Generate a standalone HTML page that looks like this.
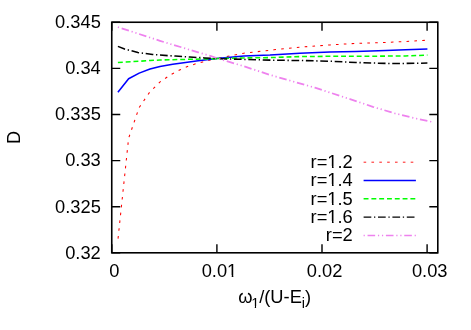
<!DOCTYPE html>
<html><head><meta charset="utf-8"><title>plot</title>
<style>
html,body{margin:0;padding:0;background:#fff;}
svg{display:block;will-change:transform;}
text{font-family:"Liberation Sans",sans-serif;font-size:18.3px;fill:#000;}
</style></head><body>
<svg width="471" height="330" viewBox="0 0 471 330">
<rect x="0" y="0" width="471" height="330" fill="#fff"/>
<path d="M118.0,239.0 L128.6,138.3 L139.1,107.6 L149.6,92.3 L160.1,81.9 L170.6,74.7 L180.1,69.8 L187.4,66.6 L195.0,64.0 L202.7,61.9 L210.3,59.9 L216.5,58.5" fill="none" stroke="#ff0000" stroke-width="1.05" stroke-dasharray="2.6 5.25" stroke-dashoffset="-0.4" stroke-linejoin="round"/>
<path d="M216.5,58.5 L243.9,53.2 L273.9,49.8 L299.9,47.2 L329.9,44.9 L355.9,43.4 L385.9,42.4 L405.5,41.5 L427.4,40.2" fill="none" stroke="#ff0000" stroke-width="1.05" stroke-dasharray="2.6 5.25" stroke-dashoffset="5.20" stroke-linejoin="round"/>
<path d="M117.9,92.2 L128.6,78.7 L139.2,73.1 L150.0,69.0 L160.0,66.5 L172.7,64.3 L185.5,62.5 L198.2,60.8 L211.0,59.3 L216.5,58.6 L243.9,56.1 L270.0,55.1 L299.9,53.2 L329.9,51.9 L355.9,51.5 L385.9,50.5 L405.5,49.8 L427.4,48.9" fill="none" stroke="#0000ff" stroke-width="1.55" stroke-linejoin="round"/>
<path d="M117.9,62.5 L140.0,61.2 L150.0,60.5 L160.0,60.0 L189.9,59.3 L211.0,58.9 L216.5,58.6" fill="none" stroke="#00ff00" stroke-width="1.55" stroke-dasharray="4.9 2.9" stroke-dashoffset="0" stroke-linejoin="round"/>
<path d="M216.5,58.6 L243.9,57.9 L270.0,57.6 L299.9,56.6 L329.9,56.3 L355.9,56.3 L385.9,56.1 L405.5,55.9 L427.4,55.1" fill="none" stroke="#00ff00" stroke-width="1.55" stroke-dasharray="4.9 2.9" stroke-dashoffset="0.18" stroke-linejoin="round"/>
<path d="M117.9,46.4 L124.6,49.0 L137.9,52.5 L152.6,54.4 L160.0,55.1 L175.3,56.1 L189.9,57.0 L204.6,57.9 L216.5,58.6" fill="none" stroke="#000000" stroke-width="1.55" stroke-dasharray="7.7 2.7 1.3 2.7" stroke-dashoffset="0" stroke-linejoin="round"/>
<path d="M216.5,58.6 L243.9,59.4 L273.9,60.2 L299.9,60.5 L329.9,61.2 L355.9,62.5 L385.9,63.4 L405.5,63.4 L427.4,63.1" fill="none" stroke="#000000" stroke-width="1.55" stroke-dasharray="7.7 2.7 1.3 2.7" stroke-dashoffset="11.38" stroke-linejoin="round"/>
<path d="M117.9,27.1 L160.0,40.8 L172.7,44.7 L185.5,48.5 L198.2,52.3 L211.0,56.1 L216.5,58.0 L243.9,66.3 L270.0,74.9 L314.9,87.7 L350.0,99.1 L372.9,106.8 L394.9,113.4 L416.9,118.7 L427.4,120.9 L433.9,122.3" fill="none" stroke="#ee82ee" stroke-width="1.75" stroke-dasharray="7.6 2.8 1.2 2.8 1.2 2.75" stroke-dashoffset="14.4" stroke-linejoin="round"/>
<rect x="111.75" y="22.25" width="326.05" height="230.55" fill="none" stroke="#000" stroke-width="1.6"/>
<path d="M111.75,252.8h8.5 M437.8,252.8h-8.5 M111.75,206.7h8.5 M437.8,206.7h-8.5 M111.75,160.6h8.5 M437.8,160.6h-8.5 M111.75,114.5h8.5 M437.8,114.5h-8.5 M111.75,68.4h8.5 M437.8,68.4h-8.5 M111.75,22.3h8.5 M437.8,22.3h-8.5 M111.8,252.8v-8.5 M111.8,22.25v8.5 M216.9,252.8v-8.5 M216.9,22.25v8.5 M322.0,252.8v-8.5 M322.0,22.25v8.5 M427.1,252.8v-8.5 M427.1,22.25v8.5" fill="none" stroke="#000" stroke-width="1.4"/>
<text x="100.8" y="258.6" text-anchor="end">0.32</text>
<text x="100.8" y="212.5" text-anchor="end">0.325</text>
<text x="100.8" y="166.4" text-anchor="end">0.33</text>
<text x="100.8" y="120.3" text-anchor="end">0.335</text>
<text x="100.8" y="74.2" text-anchor="end">0.34</text>
<text x="100.8" y="28.1" text-anchor="end">0.345</text>
<text x="114.3" y="277" text-anchor="middle">0</text>
<text x="219.5" y="277" text-anchor="middle">0.01</text>
<text x="324.6" y="277" text-anchor="middle">0.02</text>
<text x="429.7" y="277" text-anchor="middle">0.03</text>
<text x="352.8" y="167.9" text-anchor="end">r=1.2</text>
<path d="M363.6,162.2H415.9" fill="none" stroke="#ff0000" stroke-width="0.9" stroke-dasharray="2.6 5.25" stroke-dashoffset="0"/>
<text x="352.8" y="186.2" text-anchor="end">r=1.4</text>
<path d="M363.6,180.5H415.9" fill="none" stroke="#0000ff" stroke-width="1.35"/>
<text x="352.8" y="204.5" text-anchor="end">r=1.5</text>
<path d="M363.6,198.8H415.9" fill="none" stroke="#00ff00" stroke-width="1.5" stroke-dasharray="4.9 2.9" stroke-dashoffset="0"/>
<text x="352.8" y="222.8" text-anchor="end">r=1.6</text>
<path d="M363.6,217.1H415.9" fill="none" stroke="#000000" stroke-width="1.45" stroke-dasharray="7.7 2.7 1.3 2.7" stroke-dashoffset="0"/>
<text x="352.8" y="241.1" text-anchor="end">r=2</text>
<path d="M363.6,235.4H415.9" fill="none" stroke="#ee82ee" stroke-width="1.5" stroke-dasharray="7.6 2.8 1.2 2.8 1.2 2.75" stroke-dashoffset="14.4"/>
<text transform="translate(20.2,137.3) rotate(-90)" text-anchor="middle">D</text>
<text x="238.2" y="302.5">ω<tspan font-size="14.4" dy="5.6" dx="-1.3">1</tspan><tspan dy="-5.6">/(U-E</tspan><tspan font-size="14.4" dy="5.6">i</tspan><tspan dy="-5.6">)</tspan></text>
<rect x="228.00" y="275.00" width="3.71" height="3.00" fill="#fff"/>
<rect x="233.33" y="275.00" width="3.67" height="3.00" fill="#fff"/>
<rect x="328.00" y="166.00" width="3.96" height="2.00" fill="#fff"/>
<rect x="333.58" y="166.00" width="3.42" height="2.00" fill="#fff"/>
<rect x="328.00" y="184.00" width="3.96" height="3.00" fill="#fff"/>
<rect x="333.58" y="184.00" width="3.42" height="3.00" fill="#fff"/>
<rect x="328.00" y="203.00" width="3.96" height="2.00" fill="#fff"/>
<rect x="333.58" y="203.00" width="3.42" height="2.00" fill="#fff"/>
<rect x="328.00" y="221.00" width="3.96" height="2.00" fill="#fff"/>
<rect x="333.58" y="221.00" width="3.42" height="2.00" fill="#fff"/>
<rect x="251.00" y="306.00" width="3.80" height="3.00" fill="#fff"/>
<rect x="256.07" y="306.00" width="2.93" height="3.00" fill="#fff"/>
</svg></body></html>
